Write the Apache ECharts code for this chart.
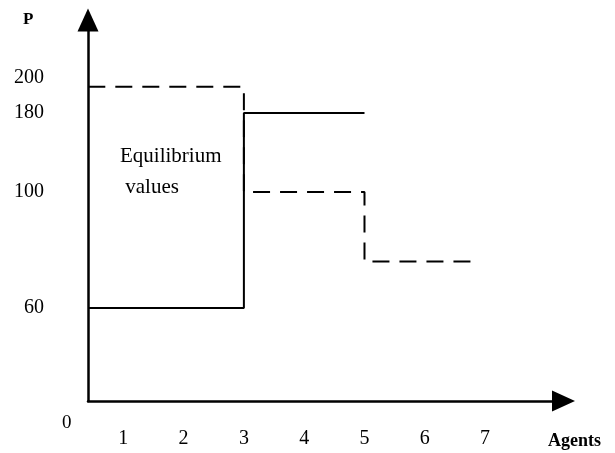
<!DOCTYPE html>
<html>
<head>
<meta charset="utf-8">
<script src="https://cdn.jsdelivr.net/npm/echarts@6/dist/echarts.min.js"></script>
<style>
html,body{margin:0;padding:0;background:#fff;}
#chart{width:615px;height:453px;}
</style>
</head>
<body>
<div id="chart"></div>
<script>
// ---- data ----
const agentTicks = [1, 2, 3, 4, 5, 6, 7];
const priceTicks = [60, 100, 180, 200];
const solidAgents = [0.42, 3, 5];
const solidPrice = [60, 180, 180];
const dashedAgents = [0.42, 3, 5, 6.88];
const dashedPrice = [195, 100, 76, 76];

// ---- hand-drawn (non-linear) price axis: price -> sketch units ----
const PRICE_STOPS = [0, 60, 100, 180, 200];
const SKETCH_STOPS = [0, 93, 209, 288, 323];
function toSketch(p) {
  for (let i = 1; i < PRICE_STOPS.length; i++) {
    if (p <= PRICE_STOPS[i]) {
      const a = PRICE_STOPS[i - 1], b = PRICE_STOPS[i];
      const A = SKETCH_STOPS[i - 1], B = SKETCH_STOPS[i];
      return A + (p - a) / (b - a) * (B - A);
    }
  }
  const n = PRICE_STOPS.length - 1;
  return SKETCH_STOPS[n] + (p - PRICE_STOPS[n]) * (SKETCH_STOPS[n] - SKETCH_STOPS[n - 1]) / (PRICE_STOPS[n] - PRICE_STOPS[n - 1]);
}
const labelOf = {};
priceTicks.forEach(p => { labelOf[Math.round(toSketch(p))] = String(p); });

const FONT = 'Liberation Serif';
const chart = echarts.init(document.getElementById('chart'));
chart.setOption({
  animation: false,
  backgroundColor: '#fff',
  grid: { left: 88, right: 51.5, top: 20, bottom: 52, outerBoundsMode: 'none' },
  xAxis: {
    type: 'value', min: 0.415, max: 8.3,
    axisLine: { onZero: false, lineStyle: { color: '#000', width: 2.5 }, symbol: ['none', 'triangle'], symbolSize: [21, 23] },
    axisTick: { show: false },
    splitLine: { show: false },
    axisLabel: { customValues: agentTicks, margin: 28, color: '#000', fontFamily: FONT, fontSize: 20, formatter: v => String(v) }
  },
  yAxis: {
    type: 'value', min: 0, max: 381,
    axisLine: { show: true, onZero: false, lineStyle: { color: '#000', width: 2.5 }, symbol: ['none', 'triangle'], symbolSize: [21, 23] },
    axisTick: { show: false },
    splitLine: { show: false },
    axisLabel: {
      customValues: priceTicks.map(toSketch), margin: 44, color: '#000', fontFamily: FONT, fontSize: 20,
      formatter: v => labelOf[Math.round(v)] || ''
    }
  },
  graphic: [
    { type: 'text', left: 23, top: 11, style: { text: 'P', font: 'bold 17px "Liberation Serif"', fill: '#000' } },
    { type: 'text', left: 548, top: 432, style: { text: 'Agents', font: 'bold 18px "Liberation Serif"', fill: '#000' } },
    { type: 'text', left: 62, top: 414, style: { text: '0', font: '19px "Liberation Serif"', fill: '#000' } },
    { type: 'text', left: 120, top: 141, style: { text: 'Equilibrium\n values', font: '21px "Liberation Serif"', lineHeight: 31, fill: '#000' } }
  ],
  series: [
    {
      type: 'line', step: 'end', symbol: 'none', silent: true,
      data: solidAgents.map((a, i) => [a, toSketch(solidPrice[i])]),
      lineStyle: { color: '#000', width: 2 }
    },
    {
      type: 'line', step: 'end', symbol: 'none', silent: true,
      data: dashedAgents.map((a, i) => [a, toSketch(dashedPrice[i])]),
      lineStyle: { color: '#000', width: 2, type: [17, 10] }
    }
  ]
});
</script>
</body>
</html>
